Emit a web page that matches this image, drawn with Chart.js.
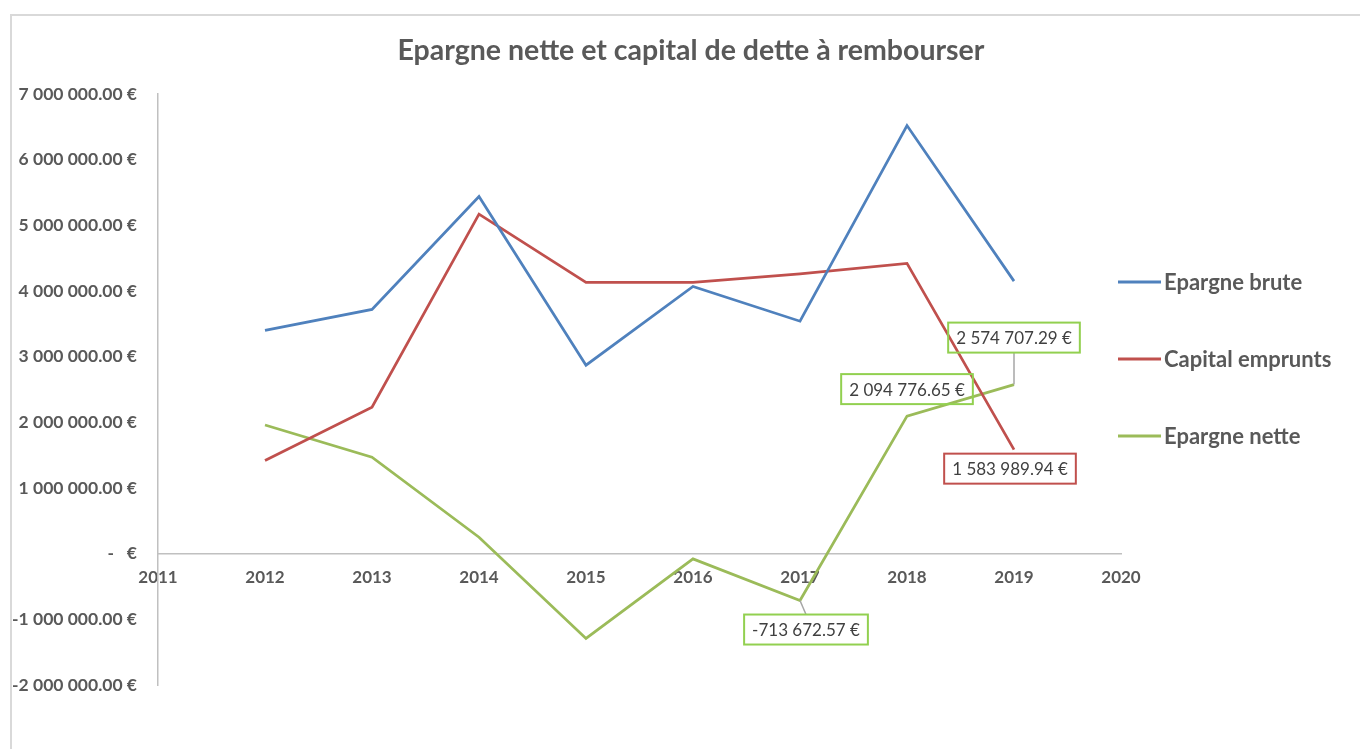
<!DOCTYPE html>
<html>
<head>
<meta charset="utf-8">
<script src="https://cdn.jsdelivr.net/npm/chart.js@4"></script>
<style>
  body { margin: 0; background: #fff; }
  #cadre {
    position: absolute; left: 10px; top: 14px; width: 1350px; height: 735px;
    border-top: 2px solid #d9d9d9; border-left: 2px solid #d9d9d9; box-sizing: border-box;
  }
</style>
</head>
<body>
<div id="cadre"><canvas id="graphique"></canvas></div>
<script>
// Données
const annees = [2012, 2013, 2014, 2015, 2016, 2017, 2018, 2019];
const epargneBrute = [3400000, 3720000, 5440000, 2870000, 4070000, 3540000, 6520000, 4150000];
const capitalEmprunts = [1420000, 2230000, 5170000, 4130000, 4130000, 4260000, 4420000, 1583989.94];
const epargneNette = [1960000, 1470000, 250000, -1290000, -80000, -713672.57, 2094776.65, 2574707.29];
const axeX = { min: 2011, max: 2020, pas: 1 };
const axeY = { min: -2000000, max: 7000000, pas: 1000000 };
const titre = 'Epargne nette et capital de dette à rembourser';

// Etiquettes de données affichées : [série, index]
const etiquettes = [[2, 7], [2, 6], [1, 7], [2, 5]];
// Décalages des étiquettes (style), leader = trait gris vers le point
const decalages = [
    { dx: 0, dy: -47, leader: true },
    { dx: 0, dy: -27, leader: false },
    { dx: -4, dy: 19, leader: false },
    { dx: 6, dy: 29, leader: true },
];

const police = 'Lato, "Open Sans", sans-serif';
const gris = '#595959';

function euro(v) {
    if (v === 0) return '-   €';
    const neg = v < 0;
    const [ent, dec] = Math.abs(v).toFixed(2).split('.');
    return (neg ? '-' : '') + ent.replace(/\B(?=(\d{3})+(?!\d))/g, ' ') + '.' + dec + ' €';
}

function points(valeurs) {
    return annees.map((a, i) => ({ x: a, y: valeurs[i] }));
}

// Titre centré sur toute la largeur du cadre
const titrePlugin = {
    id: 'titreCentre',
    afterDraw(chart) {
        const ctx = chart.ctx;
        ctx.save();
        ctx.font = 'bold 28.5px ' + police;
        ctx.fillStyle = gris;
        ctx.textAlign = 'center';
        ctx.textBaseline = 'middle';
        ctx.fillText(titre, chart.width / 2 + 5, 35);
        ctx.restore();
    }
};

// Légende dessinée à droite de la zone du graphique
const legendePlugin = {
    id: 'legendeDroite',
    afterDraw(chart) {
        const ctx = chart.ctx;
        const area = chart.chartArea;
        const x0 = area.right - 3;
        const y0 = area.top + 188;
        ctx.save();
        ctx.font = 'bold 22px ' + police;
        ctx.textBaseline = 'middle';
        chart.data.datasets.forEach((ds, i) => {
            const y = y0 + i * 77;
            ctx.strokeStyle = ds.borderColor;
            ctx.lineWidth = 3;
            ctx.beginPath();
            ctx.moveTo(x0, y);
            ctx.lineTo(x0 + 43, y);
            ctx.stroke();
            ctx.fillStyle = gris;
            ctx.fillText(ds.label, x0 + 46, y + 1);
        });
        ctx.restore();
    }
};

// Etiquettes de valeurs encadrées
const etiquettesPlugin = {
    id: 'etiquettesValeurs',
    afterDatasetsDraw(chart) {
        const ctx = chart.ctx;
        ctx.save();
        ctx.font = '17px ' + police;
        etiquettes.forEach(([d, i], k) => {
            const ds = chart.data.datasets[d];
            const pt = chart.getDatasetMeta(d).data[i];
            const off = decalages[k];
            const texte = euro(ds.data[i].y);
            const w = ctx.measureText(texte).width + 16;
            const h = 30;
            const cx = pt.x + off.dx;
            const cy = pt.y + off.dy;
            if (off.leader) {
                ctx.strokeStyle = '#a6a6a6';
                ctx.lineWidth = 1.5;
                ctx.beginPath();
                ctx.moveTo(pt.x, pt.y);
                ctx.lineTo(cx, off.dy < 0 ? cy + h / 2 : cy - h / 2);
                ctx.stroke();
            }
            ctx.strokeStyle = ds.etiquetteCouleur;
            ctx.lineWidth = 2;
            ctx.strokeRect(cx - w / 2, cy - h / 2, w, h);
            ctx.fillStyle = '#404040';
            ctx.textAlign = 'center';
            ctx.textBaseline = 'middle';
            ctx.fillText(texte, cx, cy + 1);
        });
        ctx.restore();
    }
};

const ctx = document.getElementById('graphique').getContext('2d');
new Chart(ctx, {
    type: 'line',
    data: {
        datasets: [
            { label: 'Epargne brute', data: points(epargneBrute), borderColor: '#4F81BD', etiquetteCouleur: '#4F81BD' },
            { label: 'Capital emprunts', data: points(capitalEmprunts), borderColor: '#C0504D', etiquetteCouleur: '#C0504D' },
            { label: 'Epargne nette', data: points(epargneNette), borderColor: '#9BBB59', etiquetteCouleur: '#92D050' },
        ],
    },
    options: {
        responsive: true,
        maintainAspectRatio: false,
        animation: false,
        datasets: { line: { borderWidth: 2.75, pointRadius: 0, tension: 0, fill: false } },
        layout: { padding: { left: 0, right: 239, top: 78, bottom: 64 } },
        plugins: {
            legend: { display: false },
            tooltip: { enabled: false },
            title: { display: false },
        },
        scales: {
            x: {
                type: 'linear',
                position: { y: 0 },
                min: axeX.min,
                max: axeX.max,
                grid: { display: true, drawOnChartArea: false, drawTicks: false },
                border: { display: true, color: '#c0c0c0', width: 1.5 },
                ticks: {
                    stepSize: axeX.pas,
                    padding: 14,
                    color: gris,
                    font: { family: police, size: 17, weight: 'bold' },
                    callback: (v) => String(v),
                },
            },
            y: {
                min: axeY.min,
                max: axeY.max,
                afterFit(scale) { scale.width = 146; },
                grid: { display: true, drawOnChartArea: false, drawTicks: false },
                border: { display: true, color: '#c0c0c0', width: 1.5 },
                ticks: {
                    stepSize: axeY.pas,
                    padding: 21,
                    color: gris,
                    font: { family: police, size: 17.5, weight: 'bold' },
                    callback: (v) => euro(v),
                },
            },
        },
    },
    plugins: [titrePlugin, legendePlugin, etiquettesPlugin],
});
</script>
</body>
</html>
